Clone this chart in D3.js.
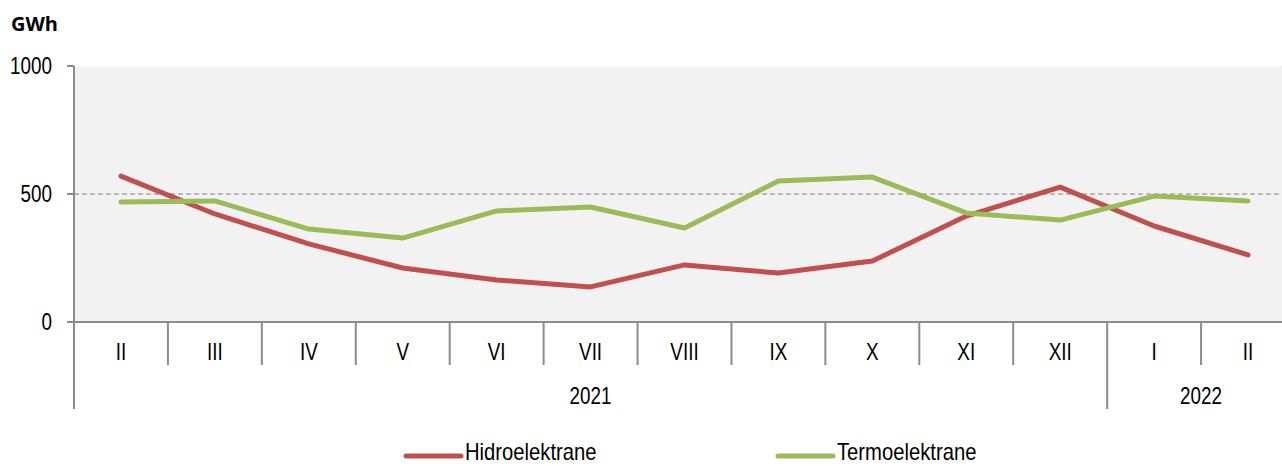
<!DOCTYPE html>
<html>
<head>
<meta charset="utf-8">
<script src="https://cdn.jsdelivr.net/npm/d3@7"></script>
<style>
  body { margin: 0; background: #fff; overflow: hidden; }
  text { font-family: "Liberation Sans", Arial, sans-serif; }
</style>
</head>
<body>
<div id="chart"></div>
<script>
// month labels (Feb 2021 - Feb 2022)
var months = ["II", "III", "IV", "V", "VI", "VII", "VIII", "IX", "X", "XI", "XII", "I", "II"];
var years = [{label: "2021", from: 0, to: 10}, {label: "2022", from: 11, to: 12}];
var hidro = [570, 422, 305, 211, 164, 137, 223, 191, 238, 414, 527, 375, 262];
var termo = [469, 473, 363, 328, 434, 449, 367, 551, 566, 426, 398, 492, 473];
var yTicks = [0, 500, 1000];
var seriesNames = ["Hidroelektrane", "Termoelektrane"];
var seriesColors = ["#C0504D", "#9BBB59"];

var W = 1282, H = 466;
var margin = {top: 66, left: 74};
var plotH = 256;
var plotW = 1221;
var narrow = 0.82; // squeeze text to look like a narrow face

var svg = d3.select("#chart").append("svg")
    .attr("width", W).attr("height", H);

function place(x, y, sx) {
    return "translate(" + x + "," + y + ") scale(" + (sx || narrow) + ",1)";
}

var idx = months.map((d, i) => i);
var xScale = d3.scaleBand().domain(idx).range([margin.left, margin.left + plotW]);
var yScale = d3.scaleLinear().domain([0, 1000]).range([margin.top + plotH, margin.top]);

// plot background
svg.append("rect")
   .attr("x", margin.left).attr("y", yScale(1000))
   .attr("width", plotW).attr("height", yScale(0) - yScale(1000))
   .attr("fill", "#F2F2F2");

// grid lines
svg.selectAll(".grid")
   .data(yTicks.filter(d => d > 0))
   .enter().append("line")
   .attr("x1", margin.left).attr("x2", margin.left + plotW)
   .attr("y1", d => yScale(d)).attr("y2", d => yScale(d))
   .attr("stroke", d => d == 1000 ? "#FFFFFF" : "#A6A6A6")
   .attr("stroke-width", 1.3)
   .attr("stroke-dasharray", "5,3");

// y axis
var axisCol = "#8C8C8C";
svg.append("line")
   .attr("x1", margin.left).attr("x2", margin.left)
   .attr("y1", yScale(1000)).attr("y2", 409)
   .attr("stroke", axisCol).attr("stroke-width", 2);
svg.selectAll(".ytick")
   .data(yTicks).enter().append("line")
   .attr("x1", margin.left - 7).attr("x2", margin.left)
   .attr("y1", d => yScale(d)).attr("y2", d => yScale(d))
   .attr("stroke", axisCol).attr("stroke-width", 2);
svg.selectAll(".ylab")
   .data(yTicks).enter().append("text")
   .attr("transform", d => place(52, yScale(d) + 8))
   .attr("text-anchor", "end")
   .attr("font-size", 23)
   .attr("fill", "#000")
   .text(d => d);

// unit label
svg.append("text")
   .attr("x", 11).attr("y", 31)
   .attr("font-size", 20)
   .attr("font-weight", "bold")
   .style("font-family", "'Open Sans', sans-serif")
   .text("GWh");

// x axis
svg.append("line")
   .attr("x1", margin.left).attr("x2", margin.left + plotW)
   .attr("y1", yScale(0)).attr("y2", yScale(0))
   .attr("stroke", axisCol).attr("stroke-width", 2);
svg.selectAll(".xsep")
   .data(idx.slice(1)).enter().append("line")
   .attr("x1", d => xScale(d)).attr("x2", d => xScale(d))
   .attr("y1", yScale(0))
   .attr("y2", d => years.some(y => y.from == d) ? 409 : 365)
   .attr("stroke", axisCol).attr("stroke-width", 2);
svg.selectAll(".xlab")
   .data(idx).enter().append("text")
   .attr("transform", d => place(xScale(d) + xScale.bandwidth() / 2, 360))
   .attr("text-anchor", "middle")
   .attr("font-size", 23)
   .text(d => months[d]);
svg.selectAll(".yearlab")
   .data(years).enter().append("text")
   .attr("transform", d => place((xScale(d.from) + xScale(d.to) + xScale.bandwidth()) / 2, 404))
   .attr("text-anchor", "middle")
   .attr("font-size", 23)
   .text(d => d.label);

// lines
var line = d3.line()
    .x((d, i) => xScale(i) + xScale.bandwidth() / 2)
    .y(d => yScale(d));
[hidro, termo].forEach(function(s, k) {
    svg.append("path")
       .datum(s)
       .attr("fill", "none")
       .attr("stroke", seriesColors[k])
       .attr("stroke-width", 5)
       .attr("stroke-linejoin", "round")
       .attr("stroke-linecap", "round")
       .attr("d", line);
});

// legend
var legX = [406, 778];
var legend = svg.selectAll(".leg")
    .data(seriesNames).enter().append("g")
    .attr("transform", (d, i) => "translate(" + legX[i] + ",456)");
legend.append("line")
   .attr("x1", 0).attr("x2", 55)
   .attr("stroke", (d, i) => seriesColors[i])
   .attr("stroke-width", 5)
   .attr("stroke-linecap", "round");
legend.append("text")
   .attr("transform", place(59, 4, 0.88))
   .attr("font-size", 23)
   .text(d => d);
</script>
</body>
</html>
